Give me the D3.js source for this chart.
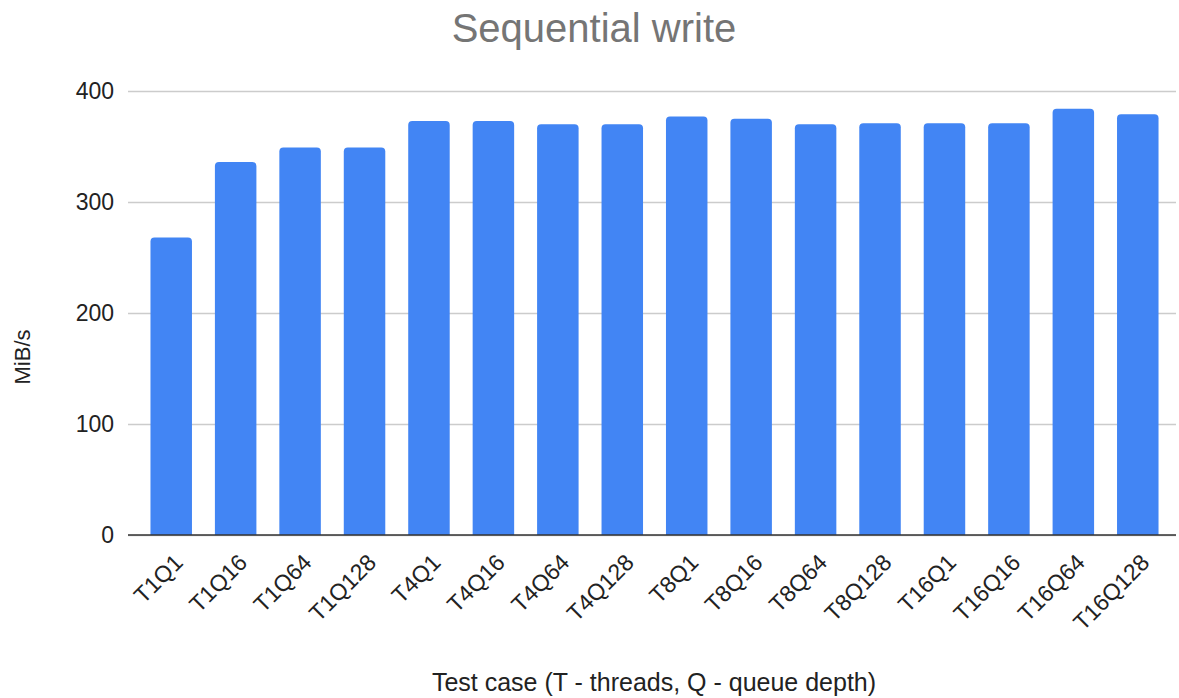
<!DOCTYPE html>
<html>
<head>
<meta charset="utf-8">
<script src="https://cdn.jsdelivr.net/npm/d3@7"></script>
<style>
  html, body { margin: 0; padding: 0; background: #fff; }
  svg { display: block; font-family: "Liberation Sans", Arial, sans-serif; }
</style>
</head>
<body>
<svg id="chart" width="1179" height="698"></svg>
<script>
// Sequential write throughput per test case (MiB/s)
const categories = ["T1Q1", "T1Q16", "T1Q64", "T1Q128", "T4Q1", "T4Q16", "T4Q64", "T4Q128",
                    "T8Q1", "T8Q16", "T8Q64", "T8Q128", "T16Q1", "T16Q16", "T16Q64", "T16Q128"];
const values = [268, 336, 349, 349, 373, 373, 370, 370, 377, 375, 370, 371, 371, 371, 384, 379];
const yTicks = [0, 100, 200, 300, 400];

const titleText = "Sequential write";
const xTitle = "Test case (T - threads, Q - queue depth)";
const yTitle = "MiB/s";

const svg = d3.select("#chart");
const plot = { left: 128, right: 1176, top: 91, bottom: 535 };

const x = d3.scaleBand()
  .domain(categories)
  .range([139, 1170])
  .paddingInner(0.356)
  .paddingOuter(0.178);

const y = d3.scaleLinear()
  .domain([0, 400])
  .range([plot.bottom, plot.top]);

// Gridlines + y tick labels
const yAxis = d3.axisLeft(y)
  .tickValues(yTicks)
  .tickSize(-(plot.right - plot.left))
  .tickPadding(14)
  .tickFormat(d3.format("d"));

const gy = svg.append("g")
  .attr("transform", `translate(${plot.left},0)`)
  .call(yAxis);
gy.select(".domain").remove();
gy.selectAll(".tick line").attr("stroke", "#cccccc").attr("stroke-width", 1.3);
gy.selectAll(".tick text")
  .attr("fill", "#222")
  .style("font-size", "23px");

// Bars with rounded top corners
const r = 4;
function barPath(d, i) {
  const x0 = x(categories[i]), w = x.bandwidth();
  const y0 = y(d), yb = y(0);
  return `M${x0},${yb}V${y0 + r}Q${x0},${y0} ${x0 + r},${y0}H${x0 + w - r}Q${x0 + w},${y0} ${x0 + w},${y0 + r}V${yb}Z`;
}
svg.append("g")
  .selectAll("path")
  .data(values)
  .join("path")
  .attr("d", barPath)
  .attr("fill", "#4285f4");

// Baseline
svg.append("line")
  .attr("x1", plot.left).attr("x2", plot.right)
  .attr("y1", y(0)).attr("y2", y(0))
  .attr("stroke", "#333").attr("stroke-width", 1.5);

// X axis labels, rotated
const xAxis = d3.axisBottom(x).tickSize(0).tickPadding(0);
const gx = svg.append("g")
  .attr("transform", `translate(0,${plot.bottom})`)
  .call(xAxis);
gx.select(".domain").remove();
gx.selectAll(".tick text")
  .attr("fill", "#222")
  .style("font-size", "23px")
  .attr("text-anchor", "end")
  .attr("dy", null)
  .attr("y", 0)
  .attr("transform", "translate(13,29) rotate(-45)");

// Title
svg.append("text")
  .attr("x", 594).attr("y", 42)
  .attr("text-anchor", "middle")
  .attr("fill", "#757575")
  .style("font-size", "40px")
  .text(titleText);

// Axis titles
svg.append("text")
  .attr("x", 654).attr("y", 691)
  .attr("text-anchor", "middle")
  .attr("fill", "#222")
  .style("font-size", "25px")
  .text(xTitle);

svg.append("text")
  .attr("transform", `translate(30,357) rotate(-90)`)
  .attr("text-anchor", "middle")
  .attr("fill", "#222")
  .style("font-size", "22px")
  .text(yTitle);
</script>
</body>
</html>
